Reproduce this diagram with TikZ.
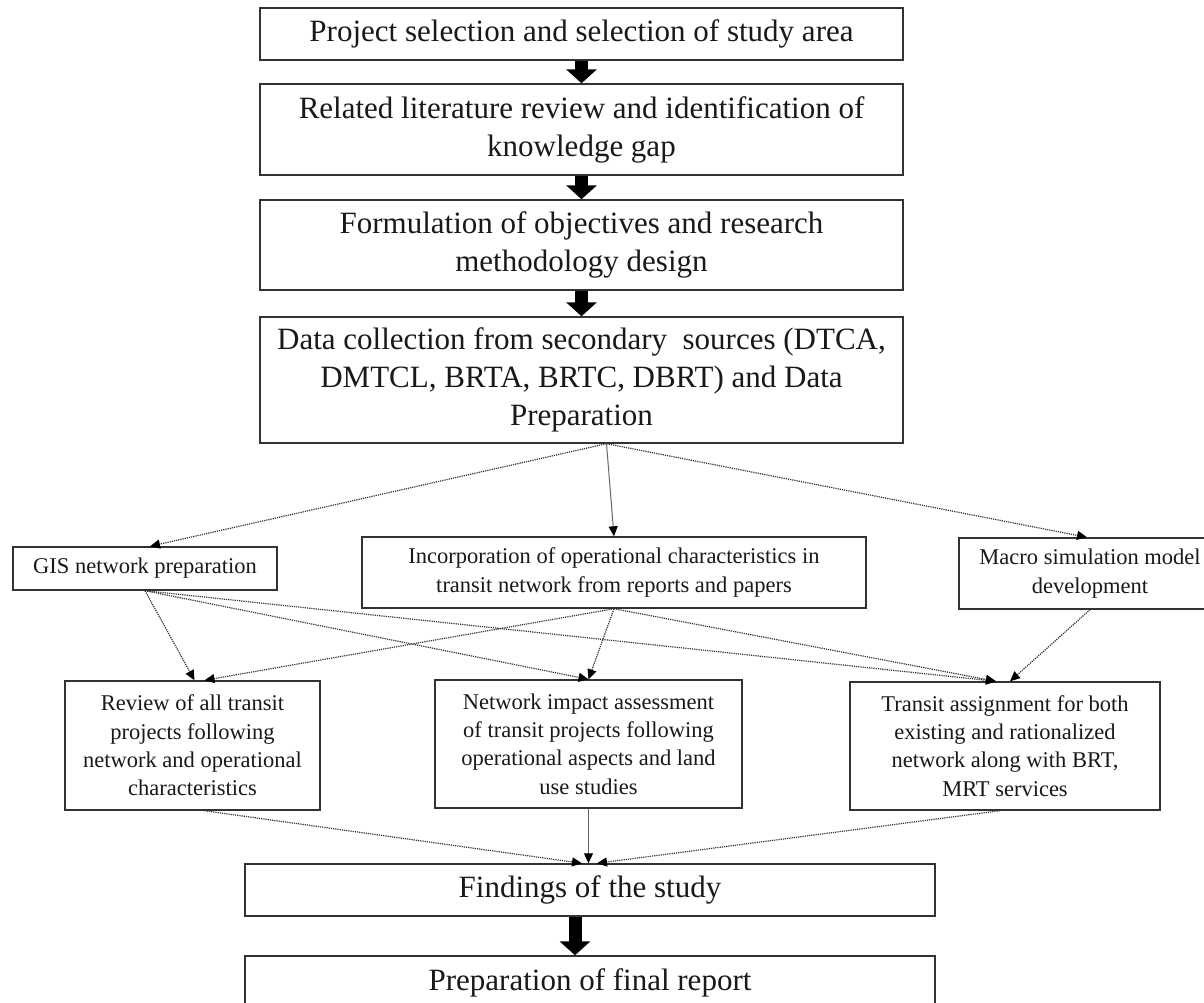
\documentclass[tikz,border=0pt]{standalone}
\usepackage{fontspec}
\setmainfont{Liberation Serif}
\usetikzlibrary{arrows.meta}
\begin{document}
\begin{tikzpicture}[x=1pt,y=-1pt,
  box/.style={draw=black!80, line width=1.4pt, rectangle, inner sep=0pt, align=center, text=black!90},
  bigbox/.style={box, font={\fontsize{31}{38}\selectfont}},
  smallbox/.style={box, font={\fontsize{22.5}{28.3}\selectfont}},
  thickarrow/.style={line width=13pt, draw=black, -{Triangle[length=14pt,width=30pt,color=black]}},
  conn/.style={draw=black!80, line width=1.2pt, densely dotted, -{Triangle[length=10pt,width=9pt,color=black]}},
  connsolid/.style={draw=black!60, line width=1pt, -{Triangle[length=10pt,width=9pt,color=black]}}
]
\useasboundingbox (0,0) rectangle (1204,1002);
\fill[white] (0,0) rectangle (1204,1002);

% main column
\node[bigbox, minimum width=643pt, minimum height=52pt] (b1) at (581.5,34) {Project selection and selection of study area};
\node[bigbox, minimum width=643pt, minimum height=91pt] (b2) at (581.5,129.5) {Related literature review and identification of\\knowledge gap};
\node[bigbox, minimum width=643pt, minimum height=90pt] (b3) at (581.5,245) {Formulation of objectives and research\\methodology design};
\node[bigbox, minimum width=643pt, minimum height=126pt] (b4) at (581.5,380) {Data collection from secondary\ \ sources (DTCA,\\DMTCL, BRTA, BRTC, DBRT) and Data\\Preparation};

% middle row
\node[smallbox, minimum width=264pt, minimum height=43pt] (gis) at (145,568.5) {GIS network preparation};
\node[smallbox, minimum width=504pt, minimum height=71pt] (inc) at (614,572.5) {Incorporation of operational characteristics in\\transit network from reports and papers};
\node[smallbox, minimum width=262pt, minimum height=71pt] (mac) at (1090,573.5) {Macro simulation model\\development};

% lower row
\node[smallbox, minimum width=255pt, minimum height=129pt] (rev) at (192.5,745.5) {Review of all transit\\projects following\\network and operational\\characteristics};
\node[smallbox, minimum width=307pt, minimum height=128pt] (net) at (588.5,744) {Network impact assessment\\of transit projects following\\operational aspects and land\\use studies};
\node[smallbox, minimum width=310pt, minimum height=128pt] (tra) at (1005,746) {Transit assignment for both\\existing and rationalized\\network along with BRT,\\MRT services};

% bottom
\node[bigbox, minimum width=690pt, minimum height=52pt] (fin) at (590,890) {Findings of the study};
\node[bigbox, minimum width=690pt, minimum height=54pt] (prep) at (590,983) {Preparation of final report};

% thick arrows
\draw[thickarrow] (b1.south) -- (b2.north);
\draw[thickarrow] (b2.south) -- (b3.north);
\draw[thickarrow] (b3.south) -- (b4.north);
\draw[thickarrow] ([xshift=-15pt]fin.south) -- ([xshift=-15pt]prep.north);

% ports
\coordinate (s4) at ([xshift=25pt]b4.south);

% from data collection
\draw[conn] (s4) -- ([xshift=5pt]gis.north);
\draw[connsolid] (s4) -- (inc.north);
\draw[conn] (s4) -- ([xshift=-3pt]mac.north);

% from GIS
\draw[conn] (gis.south) -- ([xshift=2pt]rev.north);
\draw[conn] (gis.south) -- (net.north);
\draw[conn] (gis.south) -- ([xshift=-9pt]tra.north);

% from incorporation
\draw[conn] (inc.south) -- ([xshift=12pt]rev.north);
\draw[conn] (inc.south) -- (net.north);
\draw[conn] (inc.south) -- ([xshift=-9pt]tra.north);

% from macro
\draw[conn] (mac.south) -- ([xshift=5pt]tra.north);

% to findings
\draw[conn] ([xshift=12pt]rev.south) -- ([xshift=-8pt]fin.north);
\draw[connsolid] (net.south) -- ([xshift=-1.5pt]fin.north);
\draw[conn] ([xshift=-5pt]tra.south) -- ([xshift=7pt]fin.north);
\end{tikzpicture}
\end{document}
